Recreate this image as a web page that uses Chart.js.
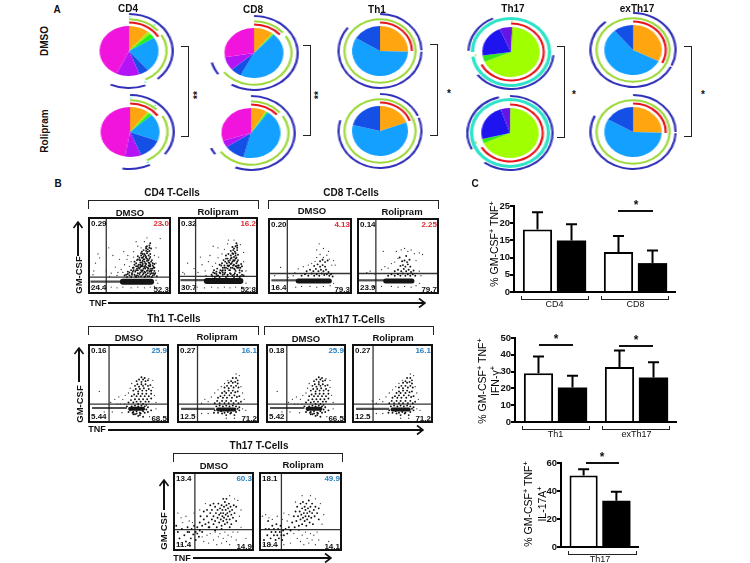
<!DOCTYPE html>
<html>
<head>
<meta charset="utf-8">
<script src="https://cdn.jsdelivr.net/npm/chart.js"></script>
<style>
  html, body { margin: 0; padding: 0; background: #fff; }
  #page { position: relative; width: 750px; height: 563px; overflow: hidden; font-family: "Liberation Sans", Arial, sans-serif; color: #111; }
  #page canvas { position: absolute; display: block; }
  .t { position: absolute; white-space: nowrap; font-weight: bold; transform: translate(-50%, -50%); }
  .n { position: absolute; white-space: nowrap; font-weight: bold; font-size: 8px; line-height: 8px; }
  .frame { position: absolute; box-sizing: border-box; border: 2px solid #111; }
  .br { position: absolute; box-sizing: border-box; border: 1.5px solid #222; }
  sup { font-size: 70%; line-height: 0; }
</style>
</head>
<body>
<div id="page"></div>
<script>
// --- panel A pie slices (degrees clockwise from the top) ---
const pieColors = ['#FFA50F', '#A0F000', '#22F01E', '#14A0FF', '#1450E6', '#B414F5', '#F014DC'];
const pie3Colors = ['#FFA50F', '#14A0FF', '#1450E6'];
const th17Colors = ['#8A4A20', '#A0FF00', '#33E61E', '#1E14F0', '#6414E6'];

const cd4DmsoSlices = [40, 6, 12, 82, 19, 46, 155];
const cd4RolSlices = [37, 4, 6, 64, 47, 32, 170];
const cd8DmsoSlices = [38, 2, 2, 165, 22, 31, 100];
const cd8RolSlices = [30, 2, 3, 160, 41, 16, 108];
const th1DmsoSlices = [92, 209, 59];
const th1RolSlices = [70, 214, 76];
const th17DmsoSlices = [3, 244, 15, 75, 23];
const th17RolSlices = [1, 245, 10, 85, 19];
const exDmsoSlices = [117, 203, 40];
const exRolSlices = [92, 208, 60];

// --- panel A outer arcs: visible, gap, visible, gap ... ---
const cd4DmsoBlue = [139, 19, 47, 155];
const cd4DmsoCyan = [2, 37, 2, 114, 2, 203];
const cd4DmsoGreen = [50, 10, 94, 206];
const cd4DmsoRed = [60, 300];
const cd4RolBlue = [127, 26, 37, 170];
const cd4RolCyan = [2, 36, 2, 112, 3, 205];
const cd4RolGreen = [45, 15, 93, 207];
const cd4RolRed = [55, 305];
const cd8DmsoBlue = [211, 24, 20, 105];
const cd8DmsoGreen = [50, 8, 175, 127];
const cd8DmsoRed = [50, 310];
const cd8RolBlue = [201, 34, 11, 114];
const cd8RolGreen = [50, 8, 176, 126];
const cd8RolRed = [50, 310];
const th1DmsoBlue = [89, 2, 218, 51];
const th1DmsoGreen = [360];
const th1DmsoRed = [90, 270];
const th1RolBlue = [66, 3, 218, 73];
const th1RolGreen = [360];
const th1RolRed = [69, 291];
const th17DmsoBlue = [0, 95, 137, 40, 63, 25];
const th17DmsoCyan = [262, 8, 90];
const th17DmsoGreen = [3, 259, 4, 94];
const th17DmsoRed = [244, 116];
const th17RolBlue = [217, 27, 101, 15];
const th17RolCyan = [360];
const th17RolGreen = [2, 248, 4, 106];
const th17RolRed = [240, 120];
const exDmsoBlue = [115, 2, 203, 40];
const exDmsoGreen = [360];
const exDmsoRed = [117, 243];
const exRolBlue = [90, 2, 204, 64];
const exRolGreen = [360];
const exRolRed = [92, 268];

// --- panel B flow plots, flat x,y lists in % of the plot ---
const cd4DmsoBand = [3, 16, 46, 16];
const cd4DmsoCore = [42, 16, 76, 16];
const cd4DmsoCloud = [46,25,50,24,53,27,56,25,59,24,62,26,64,23,67,27,70,25,72,23,75,26,78,24,81,27,48,29,52,31,57,29,60,31,63,28,66,31,68,29,71,30,74,29,77,31,80,30,55,34,58,36,61,34,64,36,67,33,69,37,72,34,74,36,76,33,79,35,58,40,61,38,63,41,66,39,68,42,70,39,73,41,75,38,78,40,60,45,63,44,65,47,68,45,70,47,72,44,74,46,77,44,64,50,66,52,69,50,71,53,73,50,75,52,67,57,70,56,72,58,74,56,76,59,71,62,74,63,75,66,65,55,60,49,56,42,62,33,69,28,73,33,76,29,71,43,66,43,79,27,83,23,58,22,52,22,47,22,68,22,77,22,70,35,64,31,54,29,59,33,65,29,73,37,78,33,62,44,67,49,75,48,70,61,65,37,72,27,68,35,60,27,54,34,80,39,50,28,55,31,60,36,63,38,66,36,69,33,72,31,75,31,78,37,80,34,74,40,71,46,66,47,62,47,68,52,72,55,74,60,70,59,65,41,59,44,56,38,53,25,57,23,61,23,66,25,69,23,74,23,48,26,44,24,80,25,76,42,73,44,69,40,67,45,64,53,70,48,75,36,63,35,58,31,77,27];
const cd4DmsoStray = [22,30,28,27,33,35,36,28,40,32,44,38,38,45,47,45,50,36,52,42,30,50,43,55,55,55,60,62,64,60,68,68,82,40,85,30,80,50,87,72,9,40,14,47,12,52,7,30,25,60,42,28,35,24,26,23,48,50,55,48,58,68,71,73,82,60,85,48,4,9,10,10,18,10,28,9,35,8,42,9,52,8,60,9,68,8,75,9,80,10,84,14,82,18,95,6,6,25,90,90];
const cd4RolBand = [3, 18, 40, 18];
const cd4RolCore = [36, 17, 78, 17];
const cd4RolCloud = [42,25,46,27,50,24,53,27,56,25,59,28,62,25,65,27,68,24,71,27,74,25,77,28,80,25,45,31,49,33,53,31,56,34,59,31,62,33,65,31,68,34,71,32,74,34,77,31,52,38,55,40,58,37,61,40,64,37,67,40,70,38,73,40,76,37,79,39,57,44,60,46,63,43,66,46,69,44,72,46,75,44,60,50,63,52,66,50,69,52,72,50,75,51,66,56,69,57,71,55,74,57,68,61,72,62,74,60,73,66,55,30,48,29,64,41,70,33,76,34,80,30,82,24,60,22,52,22,46,22,70,22,77,22,58,34,64,31,70,43,67,47,62,37,73,36,56,28,72,30,44,28,48,26,52,28,56,31,60,34,63,36,66,34,69,37,72,36,75,37,78,34,80,36,74,42,71,44,68,42,65,44,62,46,59,42,70,48,73,47,68,53,72,53,70,59,74,63,58,26,62,23,66,26,70,25,74,23,78,23,48,23,43,23,54,37,66,39];
const cd4RolStray = [20,33,25,28,30,38,34,30,38,42,43,36,47,40,40,50,28,48,50,47,55,52,58,58,62,65,50,60,70,70,82,42,85,30,82,54,8,26,12,40,7,9,15,10,24,9,33,8,42,9,50,8,58,9,65,8,72,9,80,9,85,14,6,28,35,24,28,23,44,62,63,70,78,64,90,8];
const cd8DmsoBand = [4, 18, 38, 18];
const cd8DmsoCore = [36, 17, 73, 17];
const cd8DmsoCloud = [40,24,44,26,48,24,52,27,55,24,58,26,61,24,64,27,67,25,70,26,73,24,46,30,50,32,54,30,57,33,60,30,63,32,66,30,69,32,72,29,55,37,59,39,62,36,65,38,68,36,62,43,65,45,68,42,71,44,75,26,77,23];
const cd8DmsoStray = [15,35,32,28,36,33,42,36,48,38,52,40,56,43,58,48,62,52,66,48,70,51,73,46,76,38,58,58,61,66,66,60,72,56,78,44,80,38,8,24,30,24,33,9,40,10,50,10,58,9,66,10,74,11,78,14,12,9,24,22];
const cd8RolBand = [2, 18, 38, 18];
const cd8RolCore = [35, 17, 67, 17];
const cd8RolCloud = [38,24,42,26,46,24,50,26,53,24,56,27,59,24,62,26,65,24,68,26,71,24,46,30,50,32,54,30,57,33,60,30,63,32,66,29,69,31,53,37,56,38,59,36,62,39,65,36,55,43,58,44,61,42,64,45,52,48,60,50];
const cd8RolStray = [12,28,16,30,22,26,30,32,34,36,38,34,42,40,46,42,50,47,48,56,54,58,58,60,62,56,66,58,70,53,76,54,80,52,32,56,72,44,76,30,78,24,42,10,50,9,58,10,66,9,72,11,76,14,20,10,30,10];
const th1DmsoBand = [5, 19, 48, 19];
const th1DmsoCore = [52, 18, 68, 18];
const th1DmsoCloud = [50,26,53,29,56,26,58,30,60,27,63,30,65,27,68,30,71,27,73,30,75,27,78,31,54,34,57,36,60,34,62,37,65,34,67,37,70,34,72,37,75,34,78,37,56,41,59,43,62,40,64,43,67,41,69,44,72,41,75,43,78,41,58,47,61,49,63,46,66,49,68,47,71,49,74,47,77,48,60,53,63,55,66,52,68,55,71,53,74,54,66,58,70,57,62,24,68,24,72,23,65,12,58,11,70,13,55,13,74,14,62,9,68,8,50,14,78,16,52,16,56,14,60,15,64,13,68,15,72,17,54,21,58,22,62,21,66,22,70,21,48,21,74,20,60,12,64,10,56,11];
const th1DmsoStray = [14,40,28,26,33,30,38,33,43,30,46,35,50,38,52,44,54,50,80,45,82,35,84,26,80,54,75,56,36,24,40,24,45,24,20,14,30,14,42,13,84,18,76,8];
const th1RolBand = [5, 18, 46, 18];
const th1RolCore = [50, 17, 70, 17];
const th1RolCloud = [46,25,49,28,52,25,55,28,58,25,60,28,63,25,66,28,69,25,72,28,75,25,78,27,50,32,53,34,56,32,58,35,61,32,64,35,67,32,70,35,73,33,76,34,55,38,58,40,60,38,63,41,66,38,68,41,71,39,74,40,58,45,61,47,63,44,66,47,69,45,72,47,75,45,63,51,66,53,68,51,71,52,74,50,68,57,72,57,74,54,55,12,60,10,65,12,70,10,50,13,45,13,72,14,76,16,48,21,52,22,56,21,60,22,64,21,68,22,72,21,76,20,54,15,58,13,62,14,66,13,46,16,74,18];
const th1RolStray = [25,28,30,25,34,30,38,27,42,33,46,38,50,42,54,46,58,50,62,54,78,46,80,38,82,30,76,60,72,62,30,12,38,12,80,18,84,16,70,6,60,6];
const th17DmsoCloud = [30,30,33,36,36,32,38,40,40,34,42,44,44,36,45,30,46,48,48,40,48,52,50,34,50,44,52,56,52,38,53,48,54,30,55,42,55,52,56,60,57,36,57,46,58,54,59,40,59,48,60,32,60,58,61,44,61,52,62,38,62,48,63,56,63,42,64,62,64,34,65,46,65,52,66,40,66,58,67,48,67,36,68,54,68,44,69,60,70,50,70,40,71,56,72,46,72,34,73,52,74,42,75,58,76,48,78,38,78,56,34,44,38,50,42,52,46,58,50,60,66,66,62,66,44,30,52,26,60,28,70,30,8,16,11,28,14,20,16,12,18,30,20,24,22,16,23,28,25,21,26,32,28,24,28,14,30,22,32,18,33,26,6,24,4,32,36,24,18,24];
const th17DmsoStray = [6,48,10,42,12,36,16,44,20,38,24,36,6,10,10,8,20,7,36,18,38,12,42,20,44,10,46,22,50,14,52,24,54,8,56,18,58,22,60,10,62,16,64,24,66,12,68,20,70,8,72,18,74,24,78,14,80,24,84,30,82,44,84,52,80,64,76,66,70,70,40,60,33,52,26,48,90,16];
const th17RolCloud = [40,36,42,44,43,30,44,50,45,38,46,56,47,44,48,32,49,50,50,60,50,40,51,46,52,54,52,34,53,42,53,62,54,48,55,56,55,38,56,44,56,52,57,60,57,32,58,48,58,40,59,54,60,44,60,64,61,36,61,50,62,56,63,42,64,48,64,60,65,34,66,52,67,44,68,56,70,48,72,40,72,54,10,20,12,28,14,16,15,24,16,32,18,20,18,28,20,24,20,14,21,34,22,20,23,28,24,16,25,24,26,32,27,20,28,14,29,26,30,20,32,28,34,22,36,30,38,26,6,14,8,28,11,38];
const th17RolStray = [4,44,8,46,12,42,16,40,22,44,28,40,34,38,36,46,30,48,42,22,46,16,48,26,50,12,52,20,54,8,56,24,58,16,60,10,62,22,64,14,66,20,68,8,70,24,72,14,6,8,14,8,22,7,30,8,38,10,76,34,78,46,74,60,68,66,62,70,52,70,44,62,84,12];

// --- panel C bars ---
const c1Labels = ['CD4', 'CD8'];
const c1Dmso = [18.2, 11.6];
const c1Rol = [15, 8.4];
const c1DmsoErr = [23.2, 16.3];
const c1RolErr = [19.7, 12.1];
const c2Labels = ['Th1', 'exTh17'];
const c2Dmso = [29, 32.7];
const c2Rol = [20.5, 26.5];
const c2DmsoErr = [39, 42.5];
const c2RolErr = [27.5, 35.5];
const c3Labels = ['Th17'];
const c3Dmso = [51];
const c3Rol = [33];
const c3DmsoErr = [55.5];
const c3RolErr = [39.5];

const page = document.getElementById('page');
const RED = '#DD2A30', BLUE = '#2A80C0';

function addCanvas(x, y, w, h) {
    const c = document.createElement('canvas');
    c.width = w; c.height = h;
    c.style.left = x + 'px'; c.style.top = y + 'px';
    c.style.width = w + 'px'; c.style.height = h + 'px';
    page.appendChild(c);
    return c;
}
function text(html, x, y, size, rot) {
    const d = document.createElement('div');
    d.className = 't';
    d.innerHTML = html;
    d.style.left = x + 'px'; d.style.top = y + 'px'; d.style.fontSize = size + 'px';
    if (rot) d.style.transform = 'translate(-50%, -50%) rotate(' + rot + 'deg)';
    page.appendChild(d);
    return d;
}
function box(cls, x, y, w, h, noSide) {
    const d = document.createElement('div');
    d.className = cls;
    d.style.left = x + 'px'; d.style.top = y + 'px'; d.style.width = w + 'px'; d.style.height = h + 'px';
    if (noSide) d.style['border' + noSide] = 'none';
    page.appendChild(d);
    return d;
}
function line(x1, y1, x2, y2, w) {
    box('br', Math.min(x1, x2), Math.min(y1, y2), Math.abs(x2 - x1) || w, Math.abs(y2 - y1) || w).style.cssText +=
        ';border:none;background:#111;';
}
function arrowUp(x, y) { text('<svg width="11" height="8" style="display:block"><path d="M1 7 L5.5 1 L10 7" fill="none" stroke="#111" stroke-width="1.6"/></svg>', x, y, 8); }
function arrowRight(x, y) { text('<svg width="8" height="11" style="display:block"><path d="M1 1 L7 5.5 L1 10" fill="none" stroke="#111" stroke-width="1.6"/></svg>', x, y, 8); }

// --- panel A ---
function alternate(values, colour) {
    return values.map((v, i) => i % 2 === 0 ? colour : 'rgba(0,0,0,0)');
}
function drawPie(cx, cy, stretch, slices, colours, blue, cyan, green, red, wideCyan) {
    const size = 76;
    const canvas = addCanvas(cx - size / 2, cy - size / 2, size, size);
    canvas.style.transform = 'scaleX(' + stretch + ')';
    const gap = w => ({ data: [1], backgroundColor: ['rgba(0,0,0,0)'], weight: w });
    const ring = (vals, col, w) => ({ data: vals, backgroundColor: alternate(vals, col), weight: w });
    const datasets = [
        ring(blue, '#3030B8', 2),
        gap(wideCyan ? 1 : 1.4),
        ring(cyan, '#2FE3C8', wideCyan ? 3 : 1.2),
        gap(wideCyan ? 0.5 : 0.6),
        ring(green, '#9CD83A', wideCyan ? 1 : 2),
        gap(wideCyan ? 1 : 1.3),
        ring(red, '#E8141C', 2),
        gap(2.5),
        { data: slices, backgroundColor: colours, weight: 25 }
    ];
    new Chart(canvas, {
        type: 'doughnut',
        data: { datasets: datasets },
        options: {
            responsive: false, animation: false, cutout: 0,
            layout: { padding: 0 },
            elements: { arc: { borderWidth: 0 } },
            plugins: { legend: { display: false }, tooltip: { enabled: false } }
        }
    });
}
const noArc = [0, 360];
drawPie(129, 51, 1.18, cd4DmsoSlices, pieColors, cd4DmsoBlue, cd4DmsoCyan, cd4DmsoGreen, cd4DmsoRed);
drawPie(130, 132, 1.18, cd4RolSlices, pieColors, cd4RolBlue, cd4RolCyan, cd4RolGreen, cd4RolRed);
drawPie(254, 53, 1.18, cd8DmsoSlices, pieColors, cd8DmsoBlue, noArc, cd8DmsoGreen, cd8DmsoRed);
drawPie(251, 133, 1.18, cd8RolSlices, pieColors, cd8RolBlue, noArc, cd8RolGreen, cd8RolRed);
drawPie(380, 51, 1.12, th1DmsoSlices, pie3Colors, th1DmsoBlue, noArc, th1DmsoGreen, th1DmsoRed);
drawPie(380, 131, 1.12, th1RolSlices, pie3Colors, th1RolBlue, noArc, th1RolGreen, th1RolRed);
drawPie(511, 52, 1.15, th17DmsoSlices, th17Colors, th17DmsoBlue, th17DmsoCyan, th17DmsoGreen, th17DmsoRed, true);
drawPie(510, 133, 1.15, th17RolSlices, th17Colors, th17RolBlue, th17RolCyan, th17RolGreen, th17RolRed, true);
drawPie(633, 50, 1.15, exDmsoSlices, pie3Colors, exDmsoBlue, noArc, exDmsoGreen, exDmsoRed);
drawPie(633, 132, 1.15, exRolSlices, pie3Colors, exRolBlue, noArc, exRolGreen, exRolRed);

text('A', 57, 9, 10);
text('CD4', 128, 8, 10); text('CD8', 253, 9, 10); text('Th1', 377, 9, 10);
text('Th17', 513, 8, 10); text('exTh17', 637, 8, 10);
text('DMSO', 44, 41, 10, -90); text('Rolipram', 44, 131, 10, -90);
box('br', 181, 46, 8, 91, 'Left'); box('br', 303, 45, 8, 91, 'Left'); box('br', 430, 44, 8, 92, 'Left');
box('br', 557, 46, 8, 92, 'Left'); box('br', 684, 46, 8, 91, 'Left');
text('**', 197, 95, 10, -90); text('**', 318, 95, 10, -90);
text('*', 449, 93, 10); text('*', 574, 94, 10); text('*', 703, 94, 10);

// --- panel B ---
function pts(flat) {
    const out = [];
    for (let i = 0; i < flat.length; i += 2) out.push({ x: flat[i], y: flat[i + 1] });
    return out;
}
function drawFlow(x, y, w, h, vGate, hGate, band, core, cloud, stray, labels, hiColour, coreWidth) {
    const canvas = addCanvas(x, y, w, h);
    const gate = d => ({ data: d, showLine: true, borderColor: '#333', borderWidth: 1.3, pointRadius: 0 });
    new Chart(canvas, {
        type: 'scatter',
        data: {
            datasets: [
                { data: pts(band), showLine: true, borderColor: 'rgba(20,20,20,0.75)', borderWidth: 2.2, pointRadius: 0 },
                { data: pts(core), showLine: true, borderColor: '#151515', borderWidth: coreWidth, pointRadius: 0, borderCapStyle: 'round' },
                { data: pts(cloud), pointRadius: 0.95, backgroundColor: '#111', borderWidth: 0 },
                { data: pts(stray), pointRadius: 0.65, backgroundColor: '#333', borderWidth: 0 },
                gate([{ x: vGate, y: 0 }, { x: vGate, y: 100 }]),
                gate([{ x: 0, y: hGate }, { x: 100, y: hGate }])
            ]
        },
        options: {
            responsive: false, animation: false,
            layout: { padding: 0, autoPadding: false },
            scales: {
                x: { display: false, min: 0, max: 100 },
                y: { display: false, min: 0, max: 100 }
            },
            plugins: { legend: { display: false }, tooltip: { enabled: false } }
        }
    });
    box('frame', x, y, w, h);
    const num = (s, px, py, right, col) => {
        const d = document.createElement('div');
        d.className = 'n';
        d.textContent = s;
        d.style.left = px + 'px'; d.style.top = (py - 4) + 'px';
        if (right) d.style.transform = 'translateX(-100%)';
        if (col) d.style.color = col;
        page.appendChild(d);
    };
    num(labels[0], x + 3, y + 7, false);
    num(labels[1], x + w - 2, y + 7, true, hiColour);
    num(labels[2], x + 3, y + h - 6, false);
    num(labels[3], x + w - 2, y + h - 4, true);
}
drawFlow(88, 217, 83, 77, 22, 22, cd4DmsoBand, cd4DmsoCore, cd4DmsoCloud, cd4DmsoStray, ['0.29', '23.0', '24.4', '52.3'], RED, 6);
drawFlow(178, 217, 80, 77, 22, 23, cd4RolBand, cd4RolCore, cd4RolCloud, cd4RolStray, ['0.32', '16.2', '30.7', '52.8'], RED, 6);
drawFlow(268, 218, 84, 76, 23, 27, cd8DmsoBand, cd8DmsoCore, cd8DmsoCloud, cd8DmsoStray, ['0.20', '4.13', '16.4', '79.3'], RED, 5);
drawFlow(357, 218, 82, 76, 23, 27, cd8RolBand, cd8RolCore, cd8RolCloud, cd8RolStray, ['0.14', '2.25', '23.9', '79.7'], RED, 5);
drawFlow(88, 344, 81, 79, 26, 24, th1DmsoBand, th1DmsoCore, th1DmsoCloud, th1DmsoStray, ['0.16', '25.9', '5.44', '68.5'], BLUE, 4);
drawFlow(177, 344, 82, 79, 25, 24, th1RolBand, th1RolCore, th1RolCloud, th1RolStray, ['0.27', '16.1', '12.5', '71.2'], BLUE, 4);
drawFlow(266, 344, 80, 79, 26, 24, th1DmsoBand, th1DmsoCore, th1DmsoCloud, th1DmsoStray, ['0.18', '25.9', '5.42', '66.5'], BLUE, 4);
drawFlow(352, 344, 81, 79, 26, 24, th1RolBand, th1RolCore, th1RolCloud, th1RolStray, ['0.27', '16.1', '12.5', '71.2'], BLUE, 4);
drawFlow(173, 472, 81, 79, 27, 27, [], [], th17DmsoCloud, th17DmsoStray, ['13.4', '60.3', '11.4', '14.9'], BLUE, 0);
drawFlow(259, 472, 83, 79, 27, 27, [], [], th17RolCloud, th17RolStray, ['18.1', '49.9', '18.4', '14.1'], BLUE, 0);

text('B', 58, 183, 10);
text('CD4 T-Cells', 172, 192, 10); box('br', 88, 200, 171, 9, 'Bottom');
text('DMSO', 130, 212, 9.5); text('Rolipram', 218, 211, 9.5);
text('CD8 T-Cells', 351, 192, 10); box('br', 268, 200, 171, 9, 'Bottom');
text('DMSO', 312, 210, 9.5); text('Rolipram', 402, 211, 9.5);
text('Th1 T-Cells', 174, 318, 10); box('br', 88, 326, 171, 9, 'Bottom');
text('DMSO', 129, 337, 9.5); text('Rolipram', 217, 336, 9.5);
text('exTh17 T-Cells', 350, 319, 10); box('br', 264, 326, 170, 9, 'Bottom');
text('DMSO', 306, 338, 9.5); text('Rolipram', 393, 337, 9.5);
text('Th17 T-Cells', 259, 445, 10); box('br', 173, 453, 170, 9, 'Bottom');
text('DMSO', 214, 465, 9.5); text('Rolipram', 303, 464, 9.5);

text('GM-CSF', 78, 275, 9.5, -90); line(77, 222, 77, 256, 1.5); arrowUp(77.5, 225);
text('TNF', 98, 303, 9); line(108, 302, 424, 302, 1.5); arrowRight(422, 302.5);
text('GM-CSF', 79, 404, 9.5, -90); line(78, 348, 78, 382, 1.5); arrowUp(78.5, 351);
text('TNF', 97, 429, 9); line(108, 429, 422, 429, 1.5); arrowRight(420, 429.5);
text('GM-CSF', 163, 531, 9.5, -90); line(163, 480, 163, 510, 1.5); arrowUp(163.5, 483);
text('TNF', 182, 558, 9); line(193, 557, 330, 557, 1.5); arrowRight(328, 557.5);

// --- panel C ---
const errorBars = {
    id: 'errorBars',
    afterDatasetsDraw(chart) {
        const ctx = chart.ctx, yScale = chart.scales.y;
        ctx.save();
        ctx.strokeStyle = '#000';
        ctx.lineWidth = 2;
        chart.data.datasets.forEach((ds, i) => {
            chart.getDatasetMeta(i).data.forEach((bar, j) => {
                const top = yScale.getPixelForValue(ds.errTop[j]);
                ctx.beginPath();
                ctx.moveTo(bar.x, bar.y);
                ctx.lineTo(bar.x, top);
                ctx.moveTo(bar.x - 5.5, top);
                ctx.lineTo(bar.x + 5.5, top);
                ctx.stroke();
            });
        });
        ctx.restore();
    }
};
function drawBars(x, y, w, h, padTop, labels, dmso, rol, dmsoErr, rolErr, yMax, yStep) {
    const canvas = addCanvas(x, y, w, h);
    new Chart(canvas, {
        type: 'bar',
        data: {
            labels: labels,
            datasets: [
                { label: 'DMSO', data: dmso, errTop: dmsoErr, backgroundColor: '#fff', borderColor: '#000', borderWidth: 2 },
                { label: 'Rolipram', data: rol, errTop: rolErr, backgroundColor: '#000', borderColor: '#000', borderWidth: 0 }
            ]
        },
        options: {
            responsive: false, animation: false,
            categoryPercentage: 0.84, barPercentage: 0.86,
            layout: { padding: { top: padTop } },
            scales: {
                x: {
                    afterFit: s => { s.height = 20; },
                    border: { color: '#000', width: 2 },
                    grid: { display: false, drawTicks: false, tickLength: 0 },
                    ticks: { color: '#111', font: { family: 'Liberation Sans', size: 9 }, padding: 7, maxRotation: 0 }
                },
                y: {
                    min: 0, max: yMax,
                    afterFit: s => { s.width = 24; },
                    border: { color: '#000', width: 2 },
                    grid: { drawOnChartArea: false, color: '#000', lineWidth: 2, tickLength: 4 },
                    ticks: { stepSize: yStep, color: '#111', font: { family: 'Liberation Sans', size: 9.5, weight: 'bold' }, padding: 0 }
                }
            },
            plugins: { legend: { display: false }, tooltip: { enabled: false } }
        },
        plugins: [errorBars]
    });
}
drawBars(490, 200, 186, 112, 6, c1Labels, c1Dmso, c1Rol, c1DmsoErr, c1RolErr, 25, 5);
drawBars(491, 332, 186, 110, 6, c2Labels, c2Dmso, c2Rol, c2DmsoErr, c2RolErr, 50, 10);
drawBars(537, 457, 102, 110, 6, c3Labels, c3Dmso, c3Rol, c3DmsoErr, c3RolErr, 60, 20);

text('C', 475, 183, 10);
box('br', 521, 296, 68, 4, 'Top'); box('br', 601, 296, 68, 4, 'Top');
box('br', 522, 426, 68, 4, 'Top'); box('br', 602, 426, 68, 4, 'Top');
box('br', 568, 551, 69, 4, 'Top');
line(618, 210, 653, 210, 1.5); text('*', 636, 205, 12);
line(539, 344, 573, 344, 1.5); text('*', 556, 339, 12);
line(619, 345, 653, 345, 1.5); text('*', 636, 340, 12);
line(586, 462, 619, 462, 1.5); text('*', 602, 457, 12);

const yLab = (s, x, y) => { const d = text(s, x, y, 10.5, -90); d.style.fontWeight = 'normal'; d.style.color = '#000'; };
yLab('% GM-CSF<sup>+</sup> TNF<sup>+</sup>', 494, 244);
yLab('% GM-CSF<sup>+</sup> TNF<sup>+</sup>', 482, 381);
yLab('IFN-γ<sup>+</sup>', 495, 381);
yLab('% GM-CSF<sup>+</sup> TNF<sup>+</sup>', 528, 504);
yLab('IL-17A<sup>+</sup>', 542, 504);
</script>
</body>
</html>
